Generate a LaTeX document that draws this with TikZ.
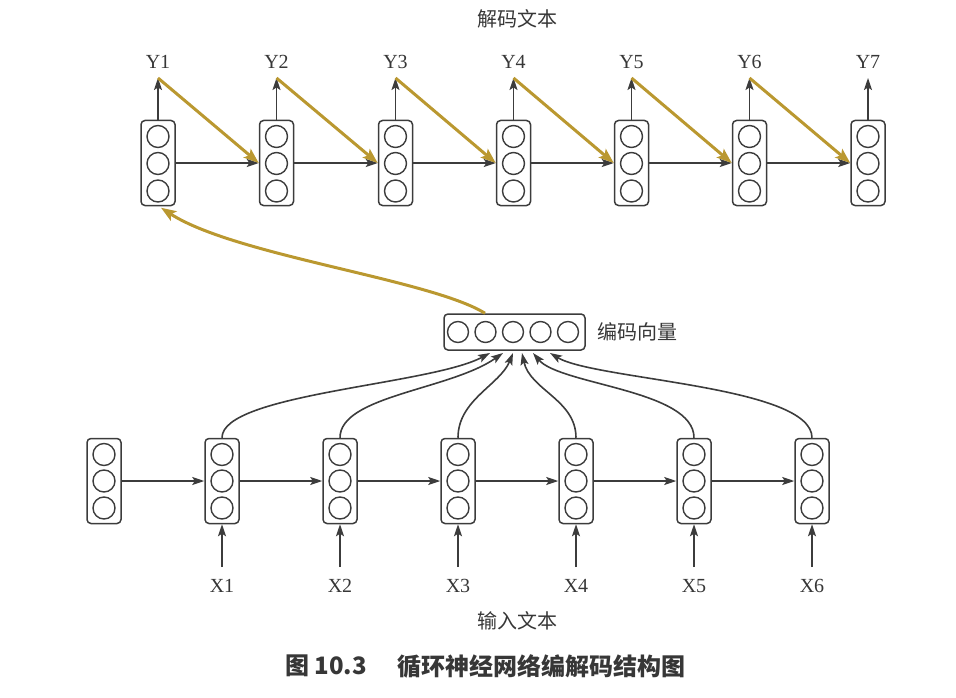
\documentclass[tikz,border=0pt]{standalone}
\usepackage{fontspec}
\setmainfont{Liberation Serif}
\newfontfamily\cjk{Noto Sans CJK SC}
\usetikzlibrary{arrows.meta}
\definecolor{linec}{RGB}{60,60,60}
\definecolor{goldc}{RGB}{186,152,48}
\definecolor{txtc}{RGB}{55,55,55}
\begin{document}
\begin{tikzpicture}[x=1pt,y=-1pt,
  cellbox/.style={draw=linec, line width=1.5pt, rounded corners=4pt, minimum width=34pt, minimum height=85pt, inner sep=0pt},
  vecbox/.style={draw=linec, line width=1.5pt, rounded corners=4pt, minimum width=141pt, minimum height=36pt, inner sep=0pt},
  unit/.style={circle, draw=linec, line width=1.4pt, minimum size=22pt, inner sep=0pt},
  vunit/.style={circle, draw=linec, line width=1.4pt, minimum size=21pt, inner sep=0pt},
  arr/.style={draw=linec, line width=1.6pt, -{Stealth[length=12pt,width=8pt,inset=2.5pt]}},
  goldarr/.style={draw=goldc, line width=3pt, -{Stealth[length=15pt,width=11pt,inset=3pt]}},
  lbl/.style={text=txtc, font=\fontsize{20}{23}\selectfont, inner sep=0pt},
  cnlbl/.style={text=txtc, font=\cjk\fontsize{20}{24}\selectfont, inner sep=0pt},
  caption/.style={text=txtc, font=\cjk\bfseries\fontsize{24}{28}\selectfont, inner sep=0pt, anchor=west}
]
\useasboundingbox (0,0) rectangle (956,698);

% ---------- decoder ----------
\foreach \i/\xx in {1/158,2/276.5,3/395.5,4/513.5,5/631.5,6/749.5,7/868} {
  \node[cellbox] (d\i) at (\xx,163) {};
  \node[unit] (d\i a) at (\xx,136.5) {};
  \node[unit] (d\i b) at (\xx,163.5) {};
  \node[unit] (d\i c) at (\xx,191) {};
  \coordinate (yt\i) at (\xx,78);
  \node[lbl] (y\i) at (\xx,62) {Y\i};
  \draw[arr] (d\i.north) -- (yt\i);
}
\foreach \i [evaluate=\i as \j using int(\i+1)] in {1,...,6} {
  \draw[arr] (d\i.east) -- (d\j.west);
}
\foreach \i [evaluate=\i as \j using int(\i+1)] in {1,...,6} {
  \draw[goldarr] (yt\i) -- (d\j.west);
}
\node[cnlbl] (dectitle) at (517,19) {解码文本};

% ---------- encoder vector ----------
\node[vecbox] (ev) at (514.5,332) {};
\foreach \k/\vx in {1/458,2/485.5,3/513,4/540.5,5/568} {
  \node[vunit] (ev\k) at (\vx,332) {};
}
\node[cnlbl, anchor=west] (evlbl) at (597,332) {编码向量};

% ---------- encoder ----------
\foreach \k in {0,...,6} {
  \pgfmathsetmacro\xx{104+118*\k}
  \node[cellbox] (e\k) at (\xx,481) {};
  \node[unit] (e\k a) at (\xx,454.5) {};
  \node[unit] (e\k b) at (\xx,481) {};
  \node[unit] (e\k c) at (\xx,508) {};
}
\foreach \k [evaluate=\k as \j using int(\k+1)] in {0,...,5} {
  \draw[arr] (e\k.east) -- (e\j.west);
}
\foreach \k in {1,...,6} {
  \pgfmathsetmacro\xx{104+118*\k}
  \coordinate (xs\k) at (\xx,567);
  \node[lbl] (x\k) at (\xx,586) {X\k};
  \draw[arr] (xs\k) -- (e\k.south);
}
\node[cnlbl] (enctitle) at (517,621) {输入文本};

% arrows into encoder vector
\coordinate (t1) at (490,353);
\coordinate (t2) at (503,353);
\coordinate (t3) at (513,353);
\coordinate (t4) at (522,353);
\coordinate (t5) at (533,353);
\coordinate (t6) at (550,353);
\draw[arr] (e1.north) .. controls +(0,-44) and +(-60,32) .. (t1);
\draw[arr] (e2.north) .. controls +(0,-42) and +(-53,37) .. (t2);
\draw[arr] (e3.north) .. controls +(0,-38) and +(-13,32) .. (t3);
\draw[arr] (e4.north) .. controls +(0,-38) and +(8,37) .. (t4);
\draw[arr] (e5.north) .. controls +(0,-48) and +(27,32) .. (t5);
\draw[arr] (e6.north) .. controls +(0,-52) and +(45,27) .. (t6);

% gold arrow from encoder vector to first decoder cell
\draw[goldarr] ([xshift=-29.5pt]ev.north) .. controls +(-55,-34) and +(74,48) .. ([xshift=3pt,yshift=-1.5pt]d1.south);

% ---------- caption ----------
\node[caption] (cap1) at (285,666) {图 10.3};
\node[caption] (cap2) at (397,666) {循环神经网络编解码结构图};
\end{tikzpicture}
\end{document}
